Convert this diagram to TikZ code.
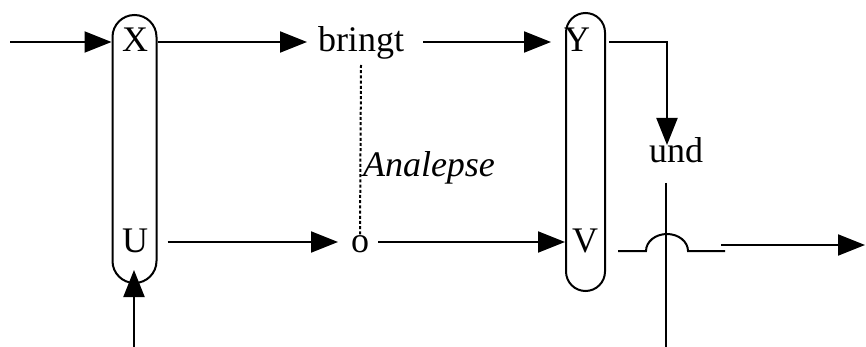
\documentclass[tikz,border=0pt]{standalone}
\usepackage{fontspec}
\setmainfont{Liberation Serif}
\usetikzlibrary{arrows.meta}
\begin{document}
\begin{tikzpicture}[x=1pt,y=-1pt,
  line width=2pt,
  lbl/.style={inner sep=0pt,font=\fontsize{36}{40}\selectfont,anchor=base},
  capsule/.style={draw,line width=2pt,rectangle,inner sep=0pt},
  arr/.style={-{Triangle[length=27pt,width=21pt]}},
  dotline/.style={line width=2pt,dash pattern=on 3pt off 2.2pt}]
\useasboundingbox (0,0) rectangle (866,347);

% the two capsules grouping X/U and Y/V
\node[capsule,rounded corners=22pt,minimum width=44pt,minimum height=268pt] (xu) at (134.5,149) {};
\node[capsule,rounded corners=19.5pt,minimum width=39pt,minimum height=278pt] (yv) at (585.5,152) {};

% rows
\coordinate (r1) at (0,42);
\coordinate (r2) at (0,242);
\coordinate (r3) at (0,251);

% labels
\node[lbl] (X) at (135,52) {X};
\node[lbl] (U) at (135,252) {U};
\node[lbl] (bringt) at (361,52) {bringt};
\node[lbl] (o) at (360,252) {o};
\node[lbl] (Y) at (577,52) {Y};
\node[lbl] (V) at (585,252) {V};
\node[lbl] (und) at (676,163) {und};
\node[lbl,anchor=base west] (ana) at (362,177) {\itshape Analepse};

% free ends
\coordinate (in) at (10,42);
\coordinate (bot1) at (134,347);
\coordinate (bot2) at (666,347);
\coordinate (out) at (865,245);

% top row
\draw[arr] (in) -- (xu.west |- r1);
\draw[arr] (xu.east |- r1) -- ([xshift=-10pt]bringt.west |- r1);
\draw[arr] ([xshift=18pt]bringt.east |- r1) -- ([xshift=-14pt]yv.west |- r1);
\draw[arr] ([xshift=3pt]yv.east |- r1) -| ([xshift=-9pt,yshift=18pt]und.base);

% bottom row
\draw[arr] ([xshift=10pt]xu.east |- r2) -- ([xshift=-12pt]o.west |- r2);
\draw[arr] ([xshift=8pt]o.east |- r2) -- (yv.west |- r2);

% line from V jumping over the vertical line below "und"
\draw ([xshift=12pt]yv.east |- r3) -- (646,251)
      arc[start angle=180,end angle=360,x radius=21,y radius=17]
      -- (725,251);
\draw[arr] (721,245) -- (out);

% vertical lines
\draw ([xshift=-10pt,yshift=-20pt]und.base) -- (bot2);
\draw[arr] (bot1) -- (134,270);

% dotted link from "bringt" down to "o"
\draw[dotline] ([yshift=-13pt]bringt.base) -- ([yshift=-2pt]o.north);
\end{tikzpicture}
\end{document}
